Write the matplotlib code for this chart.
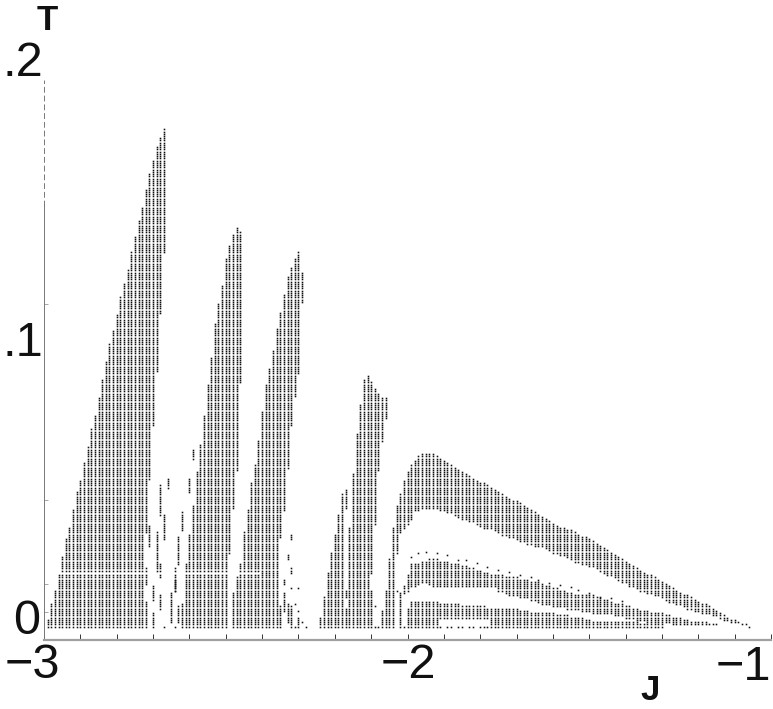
import numpy as np
from matplotlib import pyplot as plt

plt.rcParams['font.family'] = ['Liberation Sans', 'DejaVu Sans']

BASE = .0046
T_STEP = .0008
J_STEP = .01

# every lobe is a list of columns in J: lowest and highest T that still has a dot
lobe1_start = 1
lobe1_top = [.007, .0125, .018, .023, .0296, .0357, .0404, .0464, .0525, .0571, .0632,
             .0689, .075, .0804, .0864, .0929, .0993, .1054, .1107, .1161, .1221, .1275,
             .1321, .1386, .1439, .1493, .1543, .1607, .1661, .1714, .1757, .1796, .1821]
lobe1_low = [BASE] * 27 + [.0386, .0579, .0768, .0964, .1168, .1386]

lobe2_start = 38
lobe2_top = [.0132, .0268, .0375, .0482, .06, .0696, .0804, .0911, .1007, .1125, .1204,
             .1268, .1364, .1411, .1446, .1475, .1457]
lobe2_low = [BASE] * 13 + [.031, .0475, .0607, .0921]

lobe3_start = 52
lobe3_top = [.0168, .0225, .0268, .0382, .0464, .0564, .0625, .0714, .0814, .0911, .0971,
             .1029, .1114, .1171, .1232, .1293, .1329, .1357, .1382, .1314]
lobe3_low = [BASE] * 13 + [.0368, .0464, .0618, .0768, .0875, .0954, .1207]

lobe4a_start = 76
lobe4a_top = [.0082, .0154, .0239, .0311, .0375, .0446, .0518, .0536]
lobe4a_low = [BASE] * 7 + [.0475]

lobe4b_start = 84
lobe4b_top = [.04, .0596, .0732, .0839, .0929, .0946, .0921, .0893, .0882, .0868, .0868]
lobe4b_low = [BASE] * 6 + [.0239, .0418, .0607, .0714, .0793]

dome_start = 96
dome_top = [.0404, .0482, .0518, .0568,
            .06, .0621, .0643, .0654, .0661, .0664, .0664, .0661, .0654, .065,
            .0643, .0632, .0625, .0614, .0607, .06, .0593, .0586, .0579, .0571,
            .0564, .0557, .055, .0543, .0536, .0532, .0521, .0514, .0507, .05,
            .0493, .0486, .0479, .0471, .0464, .0454, .0446, .0439, .0429, .0425,
            .0418, .0411, .0404, .04, .0393, .0389, .0382, .0375, .0371, .0364,
            .0357, .035, .0346, .0339, .0329, .0321, .0311, .0304, .0296, .0289,
            .0279, .0271, .0264, .0257, .025, .0243, .0236, .0229, .0221, .0218,
            .0207, .02, .0193, .0182, .0175, .0171, .0164, .0157, .015, .0143,
            .0136, .0132, .0125, .0118, .0111, .0104, .0096, .0089, .0082, .0075,
            .0071, .0064, .0057, .0054, .005]
dome_low = [BASE, .0311, .0382, .0404,
            .0418, .0436, .0461, .0468, .0471, .0475, .0475, .0475, .0471, .0468,
            .0464, .0457, .0454, .0446, .0443, .0436, .0432, .0425, .0421, .0414,
            .0411, .0404, .04, .0396, .0389, .0386, .0379, .0375, .0368, .0364,
            .0357, .0354, .035, .0346, .0343, .0339, .0336, .0332, .0325, .0321,
            .0314, .0311, .0304, .03, .0293, .0289, .0282, .0279, .0275, .0268,
            .0264, .0261, .0254, .025, .0243, .0236, .0229, .0225, .0218, .0211,
            .0204, .0196, .0193, .0186, .0179, .0175, .0171, .0168, .0161, .0157,
            .015, .0143, .0139, .0136, .0129, .0125, .0121, .0114, .0111, .0107,
            .0104, .01, .0096, .0093, .0089, .0086, .0079, .0075, .0071, .0068,
            .0064, .0061, .0057, .0054, .005]

mid_start = 101
mid_top = [.0268, .0271, .0275, .0279, .0282, .0286, .0286, .0286, .0282, .0279,
           .0279, .0275, .0271, .0268, .0264, .0261, .0257, .0254, .025, .0246,
           .0243, .0239, .0236, .0232, .0232, .0229, .0225, .0225, .0221, .0221,
           .0218, .0214, .0214, .0211, .0207, .0204, .02, .0196, .0193, .0186,
           .0182, .0179, .0175, .0171, .0168, .0164, .0164, .0161, .0161, .0157,
           .0157, .0154, .0154, .0146, .0143, .0136, .0132, .0129, .0125, .0121,
           .0118, .0114, .0111, .0107, .0107, .0104, .01, .0096, .0096, .0093,
           .0089, .0086, .0082, .0082, .0079, .0075, .0071, .0068, .0064, .0064,
           .0061, .0061, .0057, .0057, .0057]
mid_low = [.0189, .0196, .02, .0204, .0204, .02, .0196, .0193, .0193, .0193] + [.0189] * 14 + \
          [.0179, .0175, .0171, .0164, .0161, .0157,
           .0154, .015, .015, .0146, .0143, .0139, .0132, .0129, .0125, .0121,
           .0121, .0118, .0118, .0114, .0114, .0111, .0111, .0107, .0107, .0104,
           .01, .01, .0096, .0096, .0093, .0093, .0089, .0086, .0086, .0082,
           .0079, .0079, .0075, .0075, .0071, .0068, .0068, .0064, .0064, .0061,
           .0061, .0061] + [.0057] * 13

bottom_start = 101
bottom_top = [.0136] + [.0139] * 5 + [.0136, .0136, .0132, .0132, .0129, .0129, .0125, .0125,
              .0121, .0121] + [.0118] * 5 + [.0114] * 7 + [.0111, .0111, .0107, .0107, .0104,
              .01, .01, .0096, .0096, .0096, .0093, .0093, .0089, .0089, .0086, .0086, .0082,
              .0082, .0079, .0079, .0075, .0071, .0068, .0068, .0064, .0064, .0064] + \
             [.0061] * 8 + [.0054] * 7
bottom_low = [BASE] * 8 + [.0079] * 14 + [BASE] * 48

# thin row of single dots above the middle band
sparse_col = [101, 103, 105, 108, 111, 114, 116, 119, 122, 125, 128, 131, 134, 136, 139, 142,
              145, 147, 150, 153, 156, 159]
sparse_t = [.0296, .0311, .0314, .0311, .0304, .0286, .0286, .0275, .0261, .025, .0243, .0232,
            .0225, .0214, .0204, .0196, .0189, .0179, .0168, .015, .015, .0139]

base_col = [109, 111, 112, 114, 115, 117, 118, 120, 121, 122]

# scattered islands between the lobes
island_col = [28, 28, 29, 30, 30, 31, 32, 32, 32, 33, 34, 35, 36, 37, 36, 38, 37, 40, 41, 33, 36,
              65, 66, 67, 67, 68, 68, 68, 68, 70, 70, 72, 69, 66, 69, 71, 70,
              83, 83, 90, 91, 91, 92, 93, 94, 95, 97, 98, 99, 99, 100, 100]
island_low = [.02, BASE, .034, .0143, BASE, .024, .045, .0225, .0114, .036, .054, .006, .018, .0275,
              .0179, .039, .006, .0525, .065, BASE, BASE,
              BASE, .0107, .006, .0286, .036, BASE, .024, .0186, .0186, BASE, BASE, BASE, .02, .0125,
              .0064, .0107,
              .0154, BASE, BASE, .0118, BASE, BASE, BASE, BASE, BASE, .0179, BASE, BASE, .0168,
              BASE, .0179]
island_top = [.026, .0136, .041, .0196, .01, .038, .055, .0275, .016, .045, .058, .0168, .026, .0368,
              .0214, .046, .0118, .058, .068, BASE, BASE,
              .012, .0168, .013, .03, .0375, .012, .026, .0186, .0186, .008, BASE, BASE, .022, .0125,
              .0064, .0107,
              .0179, .0111, .0179, .0118, BASE, BASE, .0107, .0179, .0286, .0179, .0168, BASE, .0196,
              .0111, .0232]

x_ticks = [-3 + .1 * i for i in range(21)]
y_ticks = [.01, .02, .05, .12]


def column_dots(col, low, top):
    rows = np.arange(round(low / T_STEP), round(top / T_STEP) + 1) * T_STEP
    j = -3 + col * J_STEP
    if j < -2.4:
        rows = rows[np.abs(rows - .0243) > .0005]
    return np.full(len(rows), j), rows


def band_dots(start, low, top):
    xs, ys = [], []
    for i in range(len(top)):
        x, y = column_dots(start + i, low[i], top[i])
        xs.append(x)
        ys.append(y)
    return np.concatenate(xs), np.concatenate(ys)


def label(x, y, s, ha='center', size=35, weight='normal'):
    fig.text(x / 773, 1 - y / 709, s, ha=ha, va='center', fontsize=size, fontweight=weight, color='#111111')


fig = plt.figure(figsize=(7.73, 7.09), dpi=100)
ax = fig.add_axes([44 / 773, (709 - 640) / 709, (771 - 44) / 773, (640 - 80) / 709])
ax.set_xlim(-3, -1)
ax.set_ylim(0, .2)

dot = dict(ls='', marker='s', ms=1.15, mew=0, color='#111111')
bands = [(lobe1_start, lobe1_low, lobe1_top), (lobe2_start, lobe2_low, lobe2_top),
         (lobe3_start, lobe3_low, lobe3_top), (lobe4a_start, lobe4a_low, lobe4a_top),
         (lobe4b_start, lobe4b_low, lobe4b_top), (dome_start, dome_low, dome_top),
         (mid_start, mid_low, mid_top), (bottom_start, bottom_low, bottom_top)]
for start, low, top in bands:
    x, y = band_dots(start, low, top)
    ax.plot(x, y, **dot)

for c, lo, hi in zip(island_col, island_low, island_top):
    x, y = column_dots(c, lo, hi)
    ax.plot(x, y, **dot)

ax.plot(-3 + np.array(sparse_col) * J_STEP, sparse_t, **dot)
ax.plot(-3 + np.array(base_col) * J_STEP, [BASE] * len(base_col), **dot)

ax.spines['top'].set_visible(False)
ax.spines['right'].set_visible(False)
ax.spines['left'].set_color('#777777')
ax.spines['left'].set_linewidth(.7)
ax.spines['left'].set_bounds(0, .155)
ax.vlines(-3, .155, .2, color='#777777', lw=.7, ls=(0, (6, 3)), clip_on=False)
ax.spines['bottom'].set_color('#a0a0a0')
ax.spines['bottom'].set_linewidth(1.6)
ax.set_xticks(x_ticks)
ax.set_yticks(y_ticks)
ax.set_xticklabels([])
ax.set_yticklabels([])
ax.tick_params(axis='x', direction='in', length=4, width=.7, color='#333333')
ax.tick_params(axis='y', direction='in', length=3, width=.6, color='#999999')

label(32, 665, '\u22123')
label(408, 665, '\u22122')
label(743, 668, '\u22121')
label(27, 622, '0')
label(43, 344, '.1', ha='right')
label(43, 63, '.2', ha='right')
label(47, 20, 'T', size=25, weight='bold')
label(650, 691, 'J', size=25, weight='bold')

fig.savefig('out.png', dpi=100)
